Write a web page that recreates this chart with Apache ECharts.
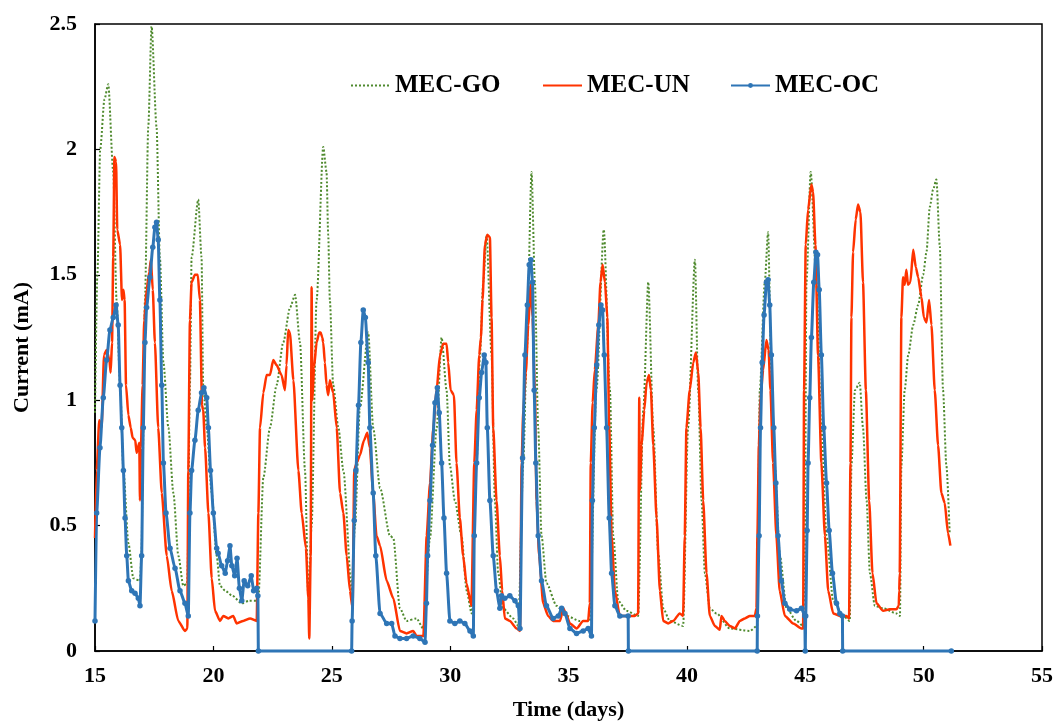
<!DOCTYPE html>
<html>
<head>
<meta charset="utf-8">
<script src="https://cdn.jsdelivr.net/npm/echarts@6.0.0/dist/echarts.min.js"></script>
<style>
html,body{margin:0;padding:0;background:#fff;}
#chart{width:1055px;height:722px;}
</style>
</head>
<body>
<div id="chart"></div>
<script>
// ---- Data: [time (days), current (mA)] ----
const seriesNames = ['MEC-GO', 'MEC-UN', 'MEC-OC'];
const xTicks = { min: 15, max: 55, step: 5 };
const yTicks = { min: 0, max: 2.5, step: 0.5 };

const goPoints = [[15.0,0.95],[15.1,1.5],[15.22,2.0],[15.4,2.2],[15.56,2.26],[15.77,1.91],[15.91,1.40],[16.06,1.06],[16.2,0.72],[16.41,0.43],[16.62,0.29],[16.9,0.28],[16.97,0.4],[17.01,0.72],[17.11,1.40],[17.25,2.09],[17.39,2.49],[17.6,2.09],[17.74,1.57],[17.89,1.15],[18.1,0.89],[18.31,0.63],[18.52,0.38],[18.73,0.26],[18.9,0.27],[19.01,1.06],[19.08,1.57],[19.36,1.80],[19.5,1.57],[19.57,1.06],[19.72,0.89],[19.93,0.63],[20.14,0.38],[20.28,0.26],[20.5,0.24],[20.8,0.22],[21.2,0.19],[21.5,0.2],[21.83,0.2],[21.9,0.21],[22.11,0.69],[22.39,0.89],[22.67,1.06],[22.95,1.23],[23.24,1.37],[23.45,1.42],[23.66,1.23],[23.87,0.72],[24.01,0.21],[24.15,0.5],[24.36,1.40],[24.64,2.01],[24.78,1.91],[24.85,1.66],[24.92,1.40],[25.06,1.06],[25.28,0.89],[25.49,0.72],[25.84,0.24],[25.98,0.5],[26.19,0.97],[26.54,1.27],[26.75,0.89],[27.04,0.65],[27.46,0.46],[27.6,0.45],[27.88,0.17],[28.16,0.12],[28.58,0.13],[28.86,0.09],[29.15,0.45],[29.43,0.89],[29.64,1.25],[29.85,1.04],[29.99,0.74],[30.2,0.60],[30.48,0.46],[30.7,0.24],[30.91,0.15],[31.12,0.75],[31.26,1.18],[31.4,1.47],[31.54,1.66],[31.75,1.18],[31.89,0.6],[32.03,0.31],[32.24,0.17],[32.66,0.13],[32.88,0.10],[33.09,0.75],[33.23,1.18],[33.44,1.91],[33.58,1.47],[33.72,0.89],[33.86,0.46],[34.07,0.27],[34.5,0.18],[34.92,0.14],[35.48,0.12],[35.9,0.12],[36.18,1.04],[36.49,1.68],[36.75,1.04],[36.89,0.46],[37.1,0.2],[37.45,0.16],[37.94,0.14],[38.16,0.96],[38.37,1.47],[38.58,0.89],[38.79,0.39],[39.0,0.17],[39.28,0.12],[39.84,0.1],[40.05,0.89],[40.34,1.56],[40.48,1.04],[40.62,0.6],[40.76,0.31],[40.97,0.17],[41.25,0.15],[41.81,0.09],[42.66,0.08],[42.97,0.1],[43.08,1.04],[43.29,1.47],[43.43,1.67],[43.57,1.11],[43.71,0.74],[43.93,0.38],[44.21,0.17],[44.63,0.12],[44.91,0.1],[44.98,0.3],[45.05,1.47],[45.23,1.91],[45.47,1.47],[45.68,0.89],[45.9,0.46],[46.18,0.2],[46.6,0.14],[46.88,0.12],[46.95,0.74],[47.1,1.04],[47.3,1.07],[47.44,0.89],[47.59,0.6],[47.73,0.31],[47.94,0.18],[48.29,0.17],[48.85,0.15],[49.0,0.14],[49.06,0.74],[49.2,1.04],[49.35,1.18],[49.56,1.30],[49.77,1.38],[49.98,1.50],[50.12,1.59],[50.26,1.77],[50.4,1.84],[50.54,1.88],[50.68,1.62],[50.82,1.04],[50.96,0.74],[51.1,0.47]];

const unPoints = [[15.0,0.45],[15.07,0.72],[15.18,0.92],[15.28,0.89],[15.38,1.18],[15.49,1.2],[15.61,1.16],[15.66,1.11],[15.72,1.23],[15.77,1.57],[15.82,1.97],[15.89,1.95],[15.94,1.68],[16.06,1.62],[16.14,1.40],[16.2,1.44],[16.25,1.40],[16.31,1.06],[16.41,0.94],[16.51,0.89],[16.59,0.85],[16.7,0.84],[16.76,0.79],[16.87,0.83],[16.9,0.6],[16.94,0.81],[17.01,1.06],[17.08,1.32],[17.18,1.44],[17.29,1.51],[17.36,1.56],[17.44,1.44],[17.53,1.23],[17.67,0.89],[17.82,0.63],[18.03,0.38],[18.24,0.24],[18.52,0.12],[18.8,0.08],[18.9,0.09],[18.94,0.72],[19.01,1.32],[19.08,1.47],[19.22,1.50],[19.34,1.50],[19.43,1.40],[19.52,0.98],[19.57,0.96],[19.65,0.81],[19.79,0.55],[19.93,0.29],[20.07,0.16],[20.28,0.12],[20.42,0.14],[20.63,0.13],[20.84,0.14],[20.98,0.11],[21.26,0.12],[21.55,0.13],[21.83,0.12],[21.9,0.55],[21.97,0.89],[22.11,1.03],[22.25,1.10],[22.39,1.10],[22.53,1.16],[22.67,1.14],[22.88,1.10],[23.02,1.04],[23.09,1.14],[23.16,1.28],[23.23,1.27],[23.38,1.08],[23.59,0.72],[23.73,0.55],[23.91,0.41],[24.01,0.21],[24.05,0.05],[24.11,0.38],[24.15,1.45],[24.18,1.0],[24.25,1.13],[24.36,1.23],[24.47,1.27],[24.53,1.27],[24.6,1.25],[24.64,1.23],[24.71,1.15],[24.78,1.06],[24.85,1.02],[24.92,1.08],[25.06,1.03],[25.21,0.89],[25.35,0.63],[25.49,0.55],[25.63,0.38],[25.77,0.24],[25.88,0.17],[25.95,0.72],[26.05,0.75],[26.19,0.78],[26.36,0.84],[26.5,0.87],[26.61,0.81],[26.75,0.63],[26.89,0.46],[27.04,0.42],[27.32,0.28],[27.6,0.21],[27.88,0.08],[28.16,0.07],[28.44,0.08],[28.58,0.06],[28.87,0.06],[29.01,0.46],[29.15,0.67],[29.29,0.89],[29.43,1.04],[29.57,1.18],[29.71,1.225],[29.85,1.225],[29.92,1.15],[30.02,1.04],[30.16,1.02],[30.27,0.75],[30.41,0.53],[30.55,0.38],[30.69,0.27],[30.9,0.18],[31.02,0.75],[31.12,0.96],[31.23,1.18],[31.3,1.25],[31.37,1.4],[31.47,1.62],[31.57,1.66],[31.68,1.65],[31.75,1.33],[31.82,0.89],[31.96,0.6],[32.1,0.38],[32.2,0.24],[32.31,0.13],[32.52,0.12],[32.81,0.09],[32.95,0.08],[33.02,0.75],[33.09,0.96],[33.2,1.11],[33.3,1.3],[33.4,1.46],[33.48,1.33],[33.58,1.04],[33.65,0.6],[33.76,0.38],[33.93,0.19],[34.14,0.14],[34.35,0.12],[34.64,0.12],[34.78,0.17],[34.89,0.15],[35.06,0.11],[35.34,0.09],[35.62,0.12],[35.83,0.12],[35.9,0.19],[35.94,0.75],[36.02,0.99],[36.11,1.12],[36.26,1.3],[36.35,1.47],[36.44,1.54],[36.54,1.47],[36.64,1.33],[36.72,0.89],[36.82,0.46],[36.96,0.24],[37.17,0.14],[37.52,0.14],[37.8,0.14],[37.94,0.15],[37.99,1.01],[38.01,0.64],[38.09,0.82],[38.2,0.96],[38.3,1.07],[38.4,1.1],[38.48,1.04],[38.58,0.82],[38.72,0.53],[38.86,0.24],[39.0,0.12],[39.21,0.11],[39.42,0.12],[39.7,0.15],[39.84,0.14],[39.91,0.46],[39.98,0.89],[40.12,1.04],[40.27,1.15],[40.38,1.19],[40.48,1.11],[40.58,0.89],[40.69,0.6],[40.83,0.31],[40.97,0.14],[41.18,0.1],[41.39,0.085],[41.46,0.14],[41.6,0.12],[41.81,0.1],[42.03,0.09],[42.24,0.12],[42.45,0.13],[42.66,0.14],[42.87,0.14],[42.94,0.17],[42.98,0.46],[43.04,0.82],[43.11,1.01],[43.22,1.12],[43.36,1.24],[43.45,1.2],[43.53,1.04],[43.64,0.75],[43.78,0.46],[43.92,0.24],[44.14,0.14],[44.49,0.11],[44.84,0.09],[44.91,0.09],[44.95,1.04],[45.02,1.62],[45.12,1.76],[45.26,1.86],[45.33,1.83],[45.43,1.62],[45.54,1.18],[45.68,0.75],[45.83,0.46],[45.97,0.24],[46.18,0.15],[46.46,0.14],[46.74,0.14],[46.85,0.13],[46.91,0.75],[46.95,1.33],[47.02,1.59],[47.13,1.72],[47.23,1.78],[47.33,1.75],[47.44,1.47],[47.56,1.04],[47.7,0.6],[47.84,0.31],[48.01,0.19],[48.29,0.16],[48.57,0.166],[48.85,0.166],[48.95,0.18],[48.97,0.24],[48.99,0.31],[49.06,1.33],[49.13,1.49],[49.2,1.46],[49.27,1.52],[49.34,1.46],[49.44,1.47],[49.56,1.6],[49.67,1.53],[49.77,1.49],[49.91,1.41],[50.01,1.33],[50.12,1.31],[50.23,1.4],[50.33,1.3],[50.47,1.04],[50.61,0.82],[50.75,0.63],[50.89,0.59],[51.03,0.47],[51.13,0.42]];

const ocPoints = [[15.0,0.12],[15.07,0.55],[15.21,0.81],[15.35,1.01],[15.49,1.16],[15.63,1.28],[15.77,1.33],[15.89,1.38],[15.98,1.3],[16.06,1.06],[16.13,0.89],[16.2,0.72],[16.27,0.53],[16.34,0.38],[16.41,0.28],[16.55,0.24],[16.69,0.23],[16.83,0.21],[16.9,0.18],[16.97,0.38],[17.04,0.89],[17.11,1.23],[17.18,1.37],[17.32,1.49],[17.44,1.61],[17.53,1.69],[17.6,1.71],[17.67,1.64],[17.74,1.40],[17.82,1.06],[17.89,0.75],[18.0,0.55],[18.17,0.41],[18.38,0.33],[18.59,0.24],[18.8,0.19],[18.94,0.14],[19.01,0.55],[19.08,0.72],[19.22,0.84],[19.36,0.96],[19.5,1.03],[19.6,1.05],[19.72,1.01],[19.79,0.89],[19.88,0.72],[20.0,0.55],[20.14,0.41],[20.2,0.39],[20.35,0.34],[20.5,0.31],[20.6,0.36],[20.7,0.42],[20.78,0.34],[20.9,0.3],[21.0,0.37],[21.1,0.25],[21.2,0.2],[21.3,0.28],[21.45,0.26],[21.6,0.3],[21.7,0.24],[21.83,0.25],[21.88,0.22],[21.9,0.0],[25.84,0.0],[25.86,0.12],[25.95,0.52],[26.02,0.72],[26.13,0.98],[26.23,1.23],[26.33,1.36],[26.42,1.33],[26.54,1.15],[26.61,0.89],[26.75,0.63],[26.86,0.38],[27.04,0.15],[27.32,0.11],[27.53,0.11],[27.67,0.06],[27.88,0.05],[28.16,0.05],[28.44,0.06],[28.72,0.05],[28.94,0.035],[29.0,0.19],[29.05,0.38],[29.15,0.6],[29.26,0.82],[29.36,0.99],[29.46,1.05],[29.54,0.95],[29.64,0.75],[29.74,0.53],[29.85,0.31],[29.99,0.12],[30.2,0.11],[30.41,0.12],[30.62,0.11],[30.84,0.08],[30.98,0.06],[31.02,0.46],[31.12,0.75],[31.23,1.01],[31.33,1.11],[31.44,1.18],[31.51,1.15],[31.57,0.89],[31.68,0.6],[31.82,0.38],[31.96,0.24],[32.1,0.17],[32.17,0.22],[32.31,0.21],[32.52,0.22],[32.74,0.2],[32.88,0.18],[32.95,0.09],[33.06,0.77],[33.16,1.18],[33.26,1.38],[33.34,1.54],[33.41,1.56],[33.48,1.47],[33.55,1.04],[33.62,0.75],[33.72,0.46],[33.86,0.28],[34.07,0.18],[34.35,0.13],[34.57,0.14],[34.71,0.17],[34.85,0.15],[35.06,0.09],[35.34,0.07],[35.62,0.08],[35.83,0.09],[35.97,0.06],[36.01,0.6],[36.09,0.89],[36.19,1.14],[36.28,1.3],[36.37,1.38],[36.44,1.36],[36.51,1.18],[36.61,0.89],[36.72,0.53],[36.82,0.31],[36.96,0.18],[37.17,0.14],[37.52,0.14],[37.53,0.0],[42.97,0.0],[42.98,0.14],[43.05,0.46],[43.11,0.89],[43.18,1.15],[43.26,1.34],[43.36,1.47],[43.43,1.48],[43.5,1.38],[43.57,1.18],[43.67,0.89],[43.76,0.67],[43.85,0.46],[43.99,0.28],[44.14,0.19],[44.35,0.166],[44.63,0.16],[44.84,0.17],[44.98,0.14],[45.0,0.0],[45.02,0.14],[45.08,0.48],[45.12,0.75],[45.19,1.01],[45.26,1.25],[45.36,1.47],[45.45,1.59],[45.52,1.58],[45.59,1.44],[45.68,1.18],[45.78,0.89],[45.9,0.67],[46.01,0.48],[46.15,0.31],[46.32,0.19],[46.46,0.15],[46.57,0.14],[46.58,0.0],[51.17,0.0]];

const FONT = "'Liberation Serif', 'Times New Roman', serif";
const chart = echarts.init(document.getElementById('chart'), null, { renderer: 'canvas' });

const legendText = { fontFamily: FONT, fontWeight: 'bold', fontSize: 25, color: '#000' };
function legendAt(left, name, showSymbol) {
  const lg = { show: true, left: left, top: 68, orient: 'horizontal', itemWidth: 39, itemHeight: showSymbol ? 6 : 10,
           data: [name], textStyle: legendText, selectedMode: false };
  if (!showSymbol) {
    lg.itemStyle = { color: 'rgba(0,0,0,0)', borderColor: 'rgba(0,0,0,0)', borderWidth: 0, opacity: 0 };
  }
  return lg;
}

chart.setOption({
  animation: false,
  backgroundColor: '#fff',
  grid: { left: 95, right: 13, top: 24, bottom: 71, show: true, borderColor: '#000', borderWidth: 1.5,
          backgroundColor: 'transparent', outerBoundsMode: 'none', containLabel: false },
  legend: [legendAt(345, seriesNames[0], false), legendAt(537, seriesNames[1], false), legendAt(725, seriesNames[2], true)],
  xAxis: {
    type: 'value', min: xTicks.min, max: xTicks.max, interval: xTicks.step,
    name: 'Time (days)', nameLocation: 'middle', nameGap: 48,
    nameTextStyle: { fontFamily: FONT, fontWeight: 'bold', fontSize: 22, color: '#000' },
    axisLine: { show: true, lineStyle: { color: '#000', width: 1.5 } },
    axisTick: { show: true, inside: true, length: 5, lineStyle: { color: '#000', width: 1.2 } },
    axisLabel: { margin: 14, fontFamily: FONT, fontWeight: 'bold', fontSize: 22, color: '#000' },
    splitLine: { show: false }
  },
  yAxis: {
    type: 'value', min: yTicks.min, max: yTicks.max, interval: yTicks.step,
    name: 'Current (mA)', nameLocation: 'middle', nameGap: 62,
    nameTextStyle: { fontFamily: FONT, fontWeight: 'bold', fontSize: 22, color: '#000', padding: [0, 20, 0, 0] },
    axisLine: { show: true, lineStyle: { color: '#000', width: 1.5 } },
    axisTick: { show: true, inside: true, length: 5, lineStyle: { color: '#000', width: 1.2 } },
    axisLabel: { margin: 18, fontFamily: FONT, fontWeight: 'bold', fontSize: 22, color: '#000' },
    splitLine: { show: false }
  },
  series: [
    { name: seriesNames[0], type: 'line', data: goPoints, symbol: 'none', clip: false,
      smooth: 0.25, smoothMonotone: 'x',
      itemStyle: { color: '#4F8A2E' },
      lineStyle: { color: '#4F8A2E', width: 2, type: 'dotted' } },
    { name: seriesNames[1], type: 'line', data: unPoints, symbol: 'none', clip: false,
      smooth: 0.2, smoothMonotone: 'x',
      itemStyle: { color: '#FF3300' },
      lineStyle: { color: '#FF3300', width: 2.5 } },
    { name: seriesNames[2], type: 'line', data: ocPoints, symbol: 'circle', symbolSize: 5.5, showAllSymbol: true, clip: false,
      smooth: 0.2, smoothMonotone: 'x',
      itemStyle: { color: '#2E75B6' },
      lineStyle: { color: '#2E75B6', width: 3 } }
  ]
});
</script>
</body>
</html>
